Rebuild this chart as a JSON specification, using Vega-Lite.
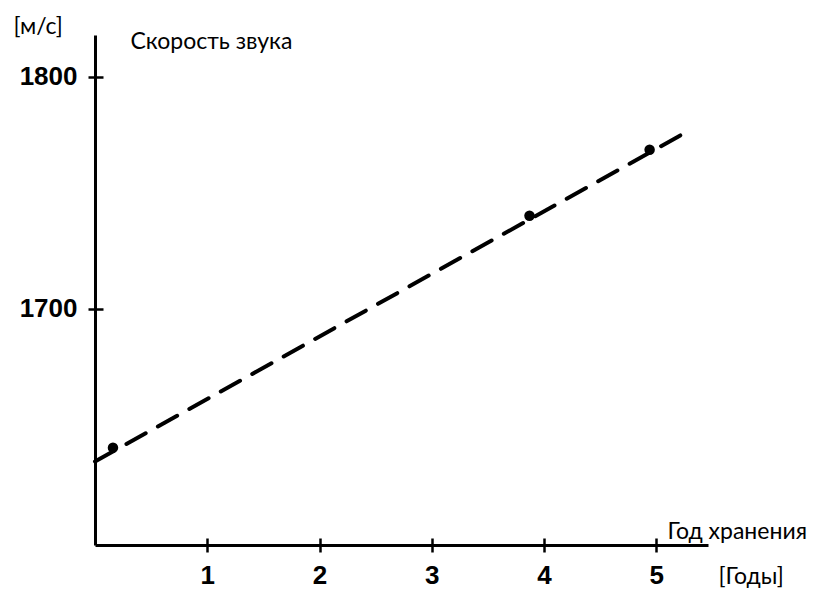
{
  "$schema": "https://vega.github.io/schema/vega-lite/v6.json",
  "autosize": {"type": "none"},
  "width": 613,
  "height": 510,
  "padding": {"left": 95, "top": 35, "right": 111, "bottom": 44},
  "background": "white",
  "config": {"view": {"stroke": null}},
  "datasets": {
    "fit": [{"year": 0, "speed": 1634}, {"year": 5.24, "speed": 1775.4}],
    "measured": [{"year": 0.16, "speed": 1640}, {"year": 3.87, "speed": 1740}, {"year": 4.94, "speed": 1768.5}]
  },
  "resolve": {"axis": {"x": "independent", "y": "independent"}},
  "layer": [
    {
      "data": {"name": "fit"},
      "mark": {"type": "line", "color": "black", "strokeWidth": 4, "strokeDash": [22, 14], "strokeCap": "round"},
      "encoding": {
        "x": {"field": "year", "type": "quantitative",
          "scale": {"domain": [0, 5.46], "nice": false, "zero": false},
          "axis": {"orient": "bottom", "values": [1, 2, 3, 4, 5], "grid": false, "format": "d",
            "domainColor": "black", "domainWidth": 3, "tickColor": "black", "tickWidth": 2.5, "tickSize": 7,
            "labelFont": "Liberation Sans", "labelFontWeight": "bold", "labelFontSize": 26, "labelColor": "black",
            "labelPadding": 10, "labelBaseline": "top",
            "title": "[Годы]", "titleFont": "Lato", "titleFontWeight": "normal", "titleFontSize": 23, "titleColor": "black",
            "titleAngle": 0, "titleAlign": "left", "titleBaseline": "alphabetic", "titleX": 623, "titleY": 38}},
        "y": {"field": "speed", "type": "quantitative",
          "scale": {"domain": [1598, 1818], "nice": false, "zero": false},
          "axis": {"orient": "left", "values": [1700, 1800], "grid": false, "format": "d",
            "domainColor": "black", "domainWidth": 3, "tickColor": "black", "tickWidth": 2.5, "tickSize": 7,
            "labelFont": "Liberation Sans", "labelFontWeight": "bold", "labelFontSize": 26, "labelColor": "black",
            "labelPadding": 11, "labelBaseline": "middle",
            "title": "[м/с]", "titleFont": "Lato", "titleFontWeight": "normal", "titleFontSize": 23, "titleColor": "black",
            "titleAngle": 0, "titleAlign": "left", "titleBaseline": "alphabetic", "titleX": -82, "titleY": -2}}
      }
    },
    {
      "data": {"name": "measured"},
      "mark": {"type": "point", "filled": true, "color": "black", "opacity": 1, "size": 110},
      "encoding": {
        "x": {"field": "year", "type": "quantitative",
          "axis": {"orient": "top", "offset": -510, "values": [1, 2, 3, 4, 5], "grid": false, "domain": false, "labels": false,
            "tickColor": "black", "tickWidth": 2.5, "tickSize": 7,
            "title": "Год хранения", "titleFont": "Lato", "titleFontWeight": "normal", "titleFontSize": 23, "titleColor": "black",
            "titleAngle": 0, "titleAlign": "left", "titleBaseline": "alphabetic", "titleX": 572, "titleY": -7}},
        "y": {"field": "speed", "type": "quantitative",
          "axis": {"orient": "right", "offset": -613, "values": [1700, 1800], "grid": false, "domain": false, "labels": false,
            "tickColor": "black", "tickWidth": 2.5, "tickSize": 8,
            "title": "Скорость звука", "titleFont": "Lato", "titleFontWeight": "normal", "titleFontSize": 23, "titleColor": "black",
            "titleAngle": 0, "titleAlign": "left", "titleBaseline": "alphabetic", "titleX": 35, "titleY": 13}}
      }
    }
  ]
}
